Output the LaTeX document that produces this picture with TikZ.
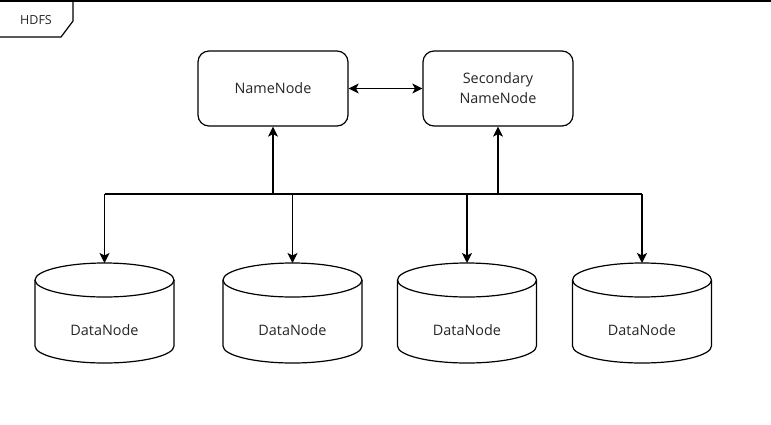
\documentclass[tikz,border=0pt]{standalone}
\usepackage{fontspec}
\setmainfont{Open Sans}
\usetikzlibrary{arrows.meta}
\begin{document}
\begin{tikzpicture}[x=1pt,y=-1pt,
  ln/.style={line width=1.2pt, draw=black},
  tip/.tip={Stealth[length=10pt,width=10pt,inset=2.5pt]},
  arr/.style={ln, -tip},
  darr/.style={ln, tip-tip},
  txt/.style={text=black!85, font=\fontsize{14.4pt}{20pt}\selectfont},
  box/.style={txt, draw=black, line width=1.2pt, rounded corners=11pt,
    minimum width=150pt, minimum height=75pt, align=center, inner sep=0pt},
  dnstyle/.style={txt, minimum width=139pt, minimum height=100pt, inner sep=0pt,
    outer sep=0pt, text height=44pt, text depth=0pt},
  cyl/.style={ln, fill=none}
]
\useasboundingbox[fill=white] (0,0) rectangle (771,424);

% frame
\node[text=black!85, font=\fontsize{12.5pt}{14pt}\selectfont] (hdfs) at (36,20) {HDFS};
\draw[ln] (0,1) -- (771,1);
\draw[ln] (0,37) -- (61,37) -- (73,21) -- (73,1);

% name nodes
\node[box] (nn) at (273,88.5) {NameNode};
\node[box] (snn) at (498,88.5) {Secondary\\NameNode};
\draw[darr] (nn) -- (snn);

% data nodes
\node[dnstyle] (dn1) at (104.5,313) {DataNode};
\node[dnstyle] (dn2) at (292.5,313) {DataNode};
\node[dnstyle] (dn3) at (467,313) {DataNode};
\node[dnstyle] (dn4) at (642,313) {DataNode};
\foreach \n in {dn1,dn2,dn3,dn4}{
  \draw[cyl] ([yshift=-17pt]\n.north west) -- ([yshift=17pt]\n.south west)
    arc[start angle=180, end angle=360, x radius=69.5pt, y radius=17pt]
    -- ([yshift=-17pt]\n.north east);
  \draw[cyl] ([yshift=-17pt]\n.north) ellipse [x radius=69.5pt, y radius=17pt];
}

% bus
\coordinate (b1) at (104.5,194);
\coordinate (b2) at (292.5,194);
\coordinate (b3) at (467,194);
\coordinate (b4) at (642,194);
\coordinate (bn) at (273,194);
\coordinate (bs) at (498,194);
\draw[ln] (b1) -- (b4);
\draw[arr] (bn) -- (nn.south);
\draw[arr] (bs) -- (snn.south);
\draw[arr] (b1) -- (dn1.north);
\draw[arr] (b2) -- (dn2.north);
\draw[arr] (b3) -- (dn3.north);
\draw[arr] (b4) -- (dn4.north);
\end{tikzpicture}
\end{document}
